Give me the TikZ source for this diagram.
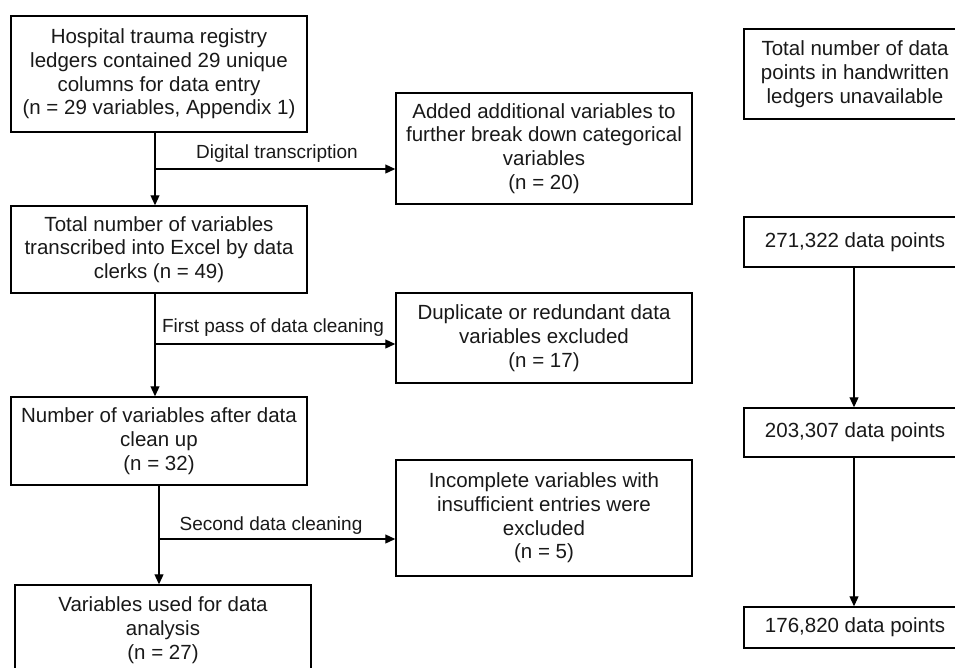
\documentclass[tikz,border=0pt]{standalone}
\usepackage{fontspec}
\setmainfont{Liberation Sans}
\usetikzlibrary{arrows.meta}
\begin{document}
\begin{tikzpicture}[x=1pt,y=-1pt,
  box/.style={draw=black,line width=1.5pt,fill=white,inner sep=0pt,align=center,
    font=\fontsize{20.5}{23.7}\selectfont,text=black!90},
  lbl/.style={font=\fontsize{19}{22}\selectfont,text=black!90,inner sep=0pt},
  arr/.style={line width=1.2pt,-{Triangle[length=10pt,width=9pt]}},
  ln/.style={line width=1.2pt}]
\useasboundingbox (0,0) rectangle (955,667);
\clip (0,0) rectangle (955,667);
\fill[white] (0,0) rectangle (955,667);
% left column
\node[box,minimum width=296pt,minimum height=116pt] (A) at (159,74)
  {Hospital trauma registry\\ledgers contained 29 unique\\columns for data entry\\(n = 29 variables, Appendix 1)};
\node[box,minimum width=296pt,minimum height=87pt] (G) at (159,249.5)
  {Total number of variables\\transcribed into Excel by data\\clerks (n = 49)};
\node[box,minimum width=296pt,minimum height=88pt] (I) at (159,441)
  {Number of variables after data\\clean up\\(n = 32)};
\node[box,minimum width=296pt,minimum height=90pt] (K) at (163,630)
  {Variables used for data\\analysis\\(n = 27)};
% middle column
\node[box,minimum width=296pt,minimum height=111pt] (B) at (544,148.5)
  {Added additional variables to\\further break down categorical\\variables\\(n = 20)};
\node[box,minimum width=296pt,minimum height=90pt] (H) at (544,338)
  {Duplicate or redundant data\\variables excluded\\(n = 17)};
\node[box,minimum width=296pt,minimum height=116pt] (J) at (544,518)
  {Incomplete variables with\\insufficient entries were\\excluded\\(n = 5)};
% right column
\node[box,minimum width=222pt,minimum height=90pt] (C) at (855,74)
  {Total number of data\\points in handwritten\\ledgers unavailable};
\node[box,minimum width=222pt,minimum height=50pt] (D) at (855,242) {271,322 data points};
\node[box,minimum width=222pt,minimum height=49pt] (E) at (855,432.5) {203,307 data points};
\node[box,minimum width=222pt,minimum height=41pt] (F) at (855,627.5) {176,820 data points};
% branch points
\coordinate (b1) at (155,169);
\coordinate (b2) at (155,344);
\coordinate (b3) at (159,539);
\coordinate (r1) at (854,0);
\draw[arr] (A.south -| b1) -- (G.north -| b1);
\draw[arr] (b1) -- (B.west |- b1);
\draw[arr] (G.south -| b2) -- (I.north -| b2);
\draw[arr] (b2) -- (H.west |- b2);
\draw[arr] (I.south -| b3) -- (K.north -| b3);
\draw[arr] (b3) -- (J.west |- b3);
\draw[arr] (D.south -| r1) -- (E.north -| r1);
\draw[arr] (E.south -| r1) -- (F.north -| r1);
% labels
\node[lbl] (l1) at (277,154) {Digital transcription};
\node[lbl] (l2) at (273,328) {First pass of data cleaning};
\node[lbl] (l3) at (271,526) {Second data cleaning};
\end{tikzpicture}
\end{document}
